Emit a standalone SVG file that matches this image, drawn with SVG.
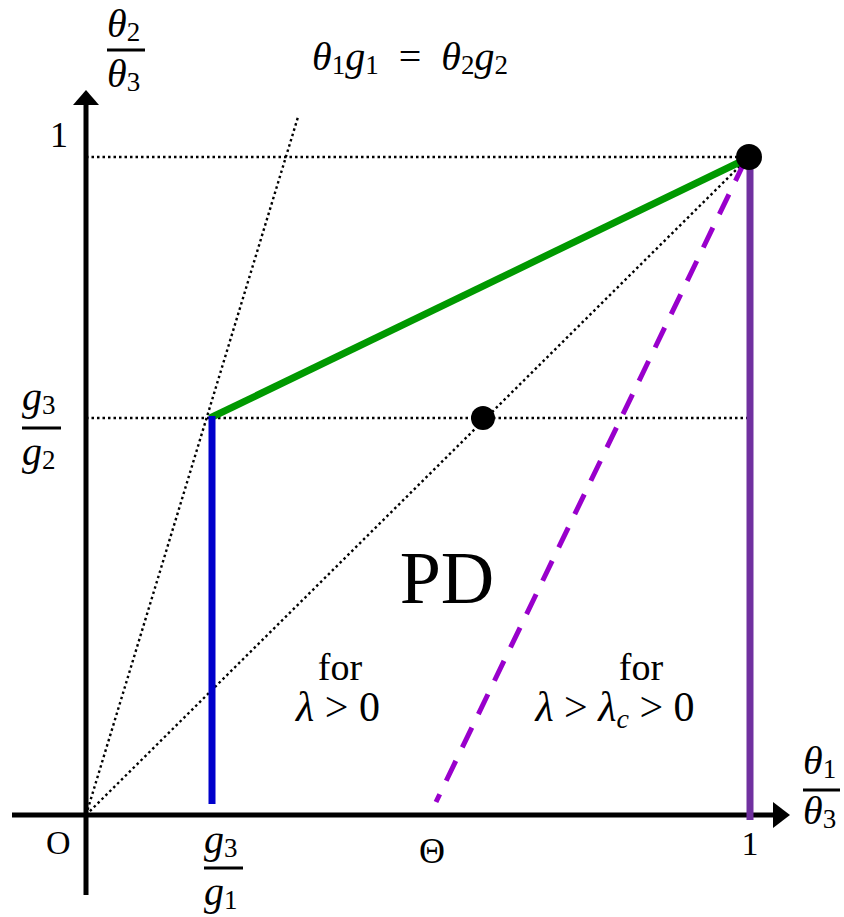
<svg xmlns="http://www.w3.org/2000/svg" width="844" height="917" viewBox="0 0 844 917">
<style>
.m{font-family:"Liberation Serif","DejaVu Serif",serif;font-style:italic;font-size:40px;fill:#000}
.s{font-size:27px;font-style:normal}
.r{font-family:"Liberation Serif","DejaVu Serif",serif;fill:#000}
.dot{stroke:#000;stroke-width:2.4;stroke-dasharray:2.5 3;fill:none}
.bar{stroke:#000;stroke-width:3}
</style>
<rect width="844" height="917" fill="#fff"/>
<g id="guides">
<line class="dot" x1="86" y1="157" x2="749" y2="157"/>
<line class="dot" x1="86" y1="418" x2="749" y2="418"/>
<line class="dot" x1="86" y1="815" x2="298" y2="117"/>
<line class="dot" x1="86" y1="815" x2="749" y2="157"/>
</g>
<g id="axes">
<line x1="86" y1="895" x2="86" y2="100" stroke="#000" stroke-width="5"/>
<polygon points="86,90 73,105 99,105" fill="#000"/>
<line x1="12" y1="815" x2="778" y2="815" stroke="#000" stroke-width="5"/>
<polygon points="790,815 773,802 773,828" fill="#000"/>
</g>
<g id="connectors">
<line x1="210" y1="418" x2="742" y2="161" stroke="#009900" stroke-width="7"/>
<line x1="212" y1="416" x2="212" y2="804" stroke="#0000cc" stroke-width="7"/>
<line x1="750" y1="157" x2="750" y2="820" stroke="#7030a0" stroke-width="7"/>
<line x1="745" y1="161" x2="436" y2="802" stroke="#9900cc" stroke-width="5" stroke-dasharray="22 15"/>
</g>
<g id="points">
<circle cx="749" cy="157" r="13" fill="#000"/>
<circle cx="483" cy="418" r="12" fill="#000"/>
</g>
<g id="labels">
<text class="m" x="107" y="37">θ<tspan class="s" dy="4">2</tspan></text>
<line class="bar" x1="107" y1="50" x2="145" y2="50"/>
<text class="m" x="107" y="87">θ<tspan class="s" dy="4">3</tspan></text>
<text class="r" x="50" y="147" font-size="36">1</text>
<text class="m" x="22" y="410">g<tspan class="s" dy="4">3</tspan></text>
<line class="bar" x1="22" y1="428" x2="61" y2="428"/>
<text class="m" x="22" y="465">g<tspan class="s" dy="4">2</tspan></text>
<text class="m" x="312" y="70">θ<tspan class="s" dy="4">1</tspan><tspan dy="-4">g</tspan><tspan class="s" dy="4">1</tspan><tspan dy="-4" font-style="normal">&#160;&#160;=&#160;&#160;</tspan><tspan dy="0">θ</tspan><tspan class="s" dy="4">2</tspan><tspan dy="-4">g</tspan><tspan class="s" dy="4">2</tspan></text>
<text class="r" x="447" y="603" font-size="74" text-anchor="middle">PD</text>
<text class="r" x="340" y="680" font-size="38" text-anchor="middle">for</text>
<text class="r" x="338" y="721" font-size="42" text-anchor="middle"><tspan font-style="italic">λ</tspan> &gt; 0</text>
<text class="r" x="641" y="680" font-size="38" text-anchor="middle">for</text>
<text class="r" x="615" y="721" font-size="42" text-anchor="middle"><tspan font-style="italic">λ</tspan> &gt; <tspan font-style="italic">λ</tspan><tspan font-style="italic" font-size="28" dy="7">c</tspan><tspan dy="-7"> &gt; 0</tspan></text>
<text class="r" x="46" y="854" font-size="34">O</text>
<text class="m" x="204" y="853">g<tspan class="s" dy="4">3</tspan></text>
<line class="bar" x1="204" y1="868" x2="243" y2="868"/>
<text class="m" x="204" y="905">g<tspan class="s" dy="4">1</tspan></text>
<text class="r" x="432" y="863" font-size="36" text-anchor="middle">Θ</text>
<text class="r" x="750" y="855" font-size="34" text-anchor="middle">1</text>
<text class="m" x="803" y="774">θ<tspan class="s" dy="4">1</tspan></text>
<line class="bar" x1="803" y1="790" x2="840" y2="790"/>
<text class="m" x="803" y="824">θ<tspan class="s" dy="4">3</tspan></text>
</g>
</svg>
